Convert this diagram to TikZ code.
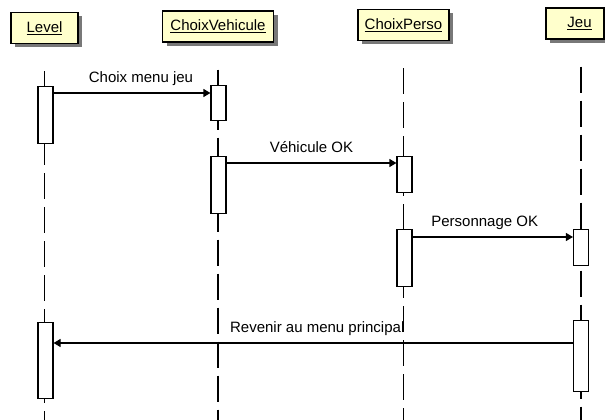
\documentclass[tikz,border=0pt]{standalone}
\usepackage{fontspec}
\setmainfont{Liberation Sans}
\usetikzlibrary{arrows.meta,shadows}

\definecolor{classfill}{RGB}{255,255,204}
\definecolor{shadowgray}{RGB}{120,120,120}

\begin{document}
\begin{tikzpicture}[x=1pt, y=-1pt, font=\fontsize{15}{18}\selectfont,
        classe/.style={draw, fill=classfill, line width=1.1pt, minimum height=31pt, inner sep=2pt,
            drop shadow={shadow xshift=4pt, shadow yshift=-4pt, fill=shadowgray, opacity=1}},
        lifeline/.style={line width=1.2pt, dash pattern=on 26pt off 8pt},
        activ/.style={draw, fill=white, line width=1.1pt, minimum width=15pt, inner sep=0pt, anchor=north},
        msg/.style={line width=1.1pt, -{Triangle[length=7pt, width=8pt]}},
        lbl/.style={anchor=base, yshift=11pt, inner sep=0pt}]
        \useasboundingbox (0,0) rectangle (605,420);

        \node[classe, minimum width=67pt] (lv) at (44.5, 28) {\underline{Level}};
        \node[classe, minimum width=111pt] (cv) at (218, 26.5) {\underline{ChoixVehicule}};
        \node[classe, minimum width=91pt] (cp) at (403.5, 25) {\underline{ChoixPerso}};
        \node[classe, minimum width=58pt] (je) at (575, 23.5) {\hspace{9pt}\underline{Jeu}};

        % lignes de vie
        \draw[lifeline] ([yshift=-27pt]lv.south) -- ++(0, 350);
        \draw[lifeline] ([yshift=-27pt]cv.south) -- ++(0, 350);
        \draw[lifeline] ([yshift=-27pt]cp.south) -- ++(0, 355);
        \draw[lifeline] ([yshift=-27pt, xshift=6pt]je.south) -- ++(0, 355);

        % activations
        \node[activ, minimum height=57pt] (lvA1) at (45.5, 86) {};
        \node[activ, minimum height=76pt] (lvA2) at (45.5, 322) {};
        \node[activ, minimum height=35pt] (cvA1) at (218.5, 85) {};
        \node[activ, minimum height=57pt] (cvA2) at (218.5, 156) {};
        \node[activ, minimum height=36pt] (cpA1) at (404.5, 156) {};
        \node[activ, minimum height=57pt] (cpA2) at (404.5, 229) {};
        \node[activ, minimum height=36pt] (jeA1) at (581, 229) {};
        \node[activ, minimum height=71pt] (jeA2) at (581, 320) {};

        \draw[msg] ([yshift=-7pt]lvA1.north east) -- node[lbl, xshift=9pt] {Choix menu jeu} ([yshift=-7pt]lvA1.north east -| cvA1.west);
        \draw[msg] ([yshift=-7pt]cvA2.north east) -- node[lbl] {Véhicule OK} ([yshift=-7pt]cvA2.north east -| cpA1.west);
        \draw[msg] ([yshift=-8pt]cpA2.north east) -- node[lbl, xshift=-8pt] {Personnage OK} ([yshift=-8pt]cpA2.north east -| jeA1.west);
        \draw[msg] ([yshift=-23pt]jeA2.north west) -- node[lbl, xshift=4pt] {Revenir au menu principal} ([yshift=-23pt]jeA2.north west -| lvA2.east);
    \end{tikzpicture}
\end{document}
